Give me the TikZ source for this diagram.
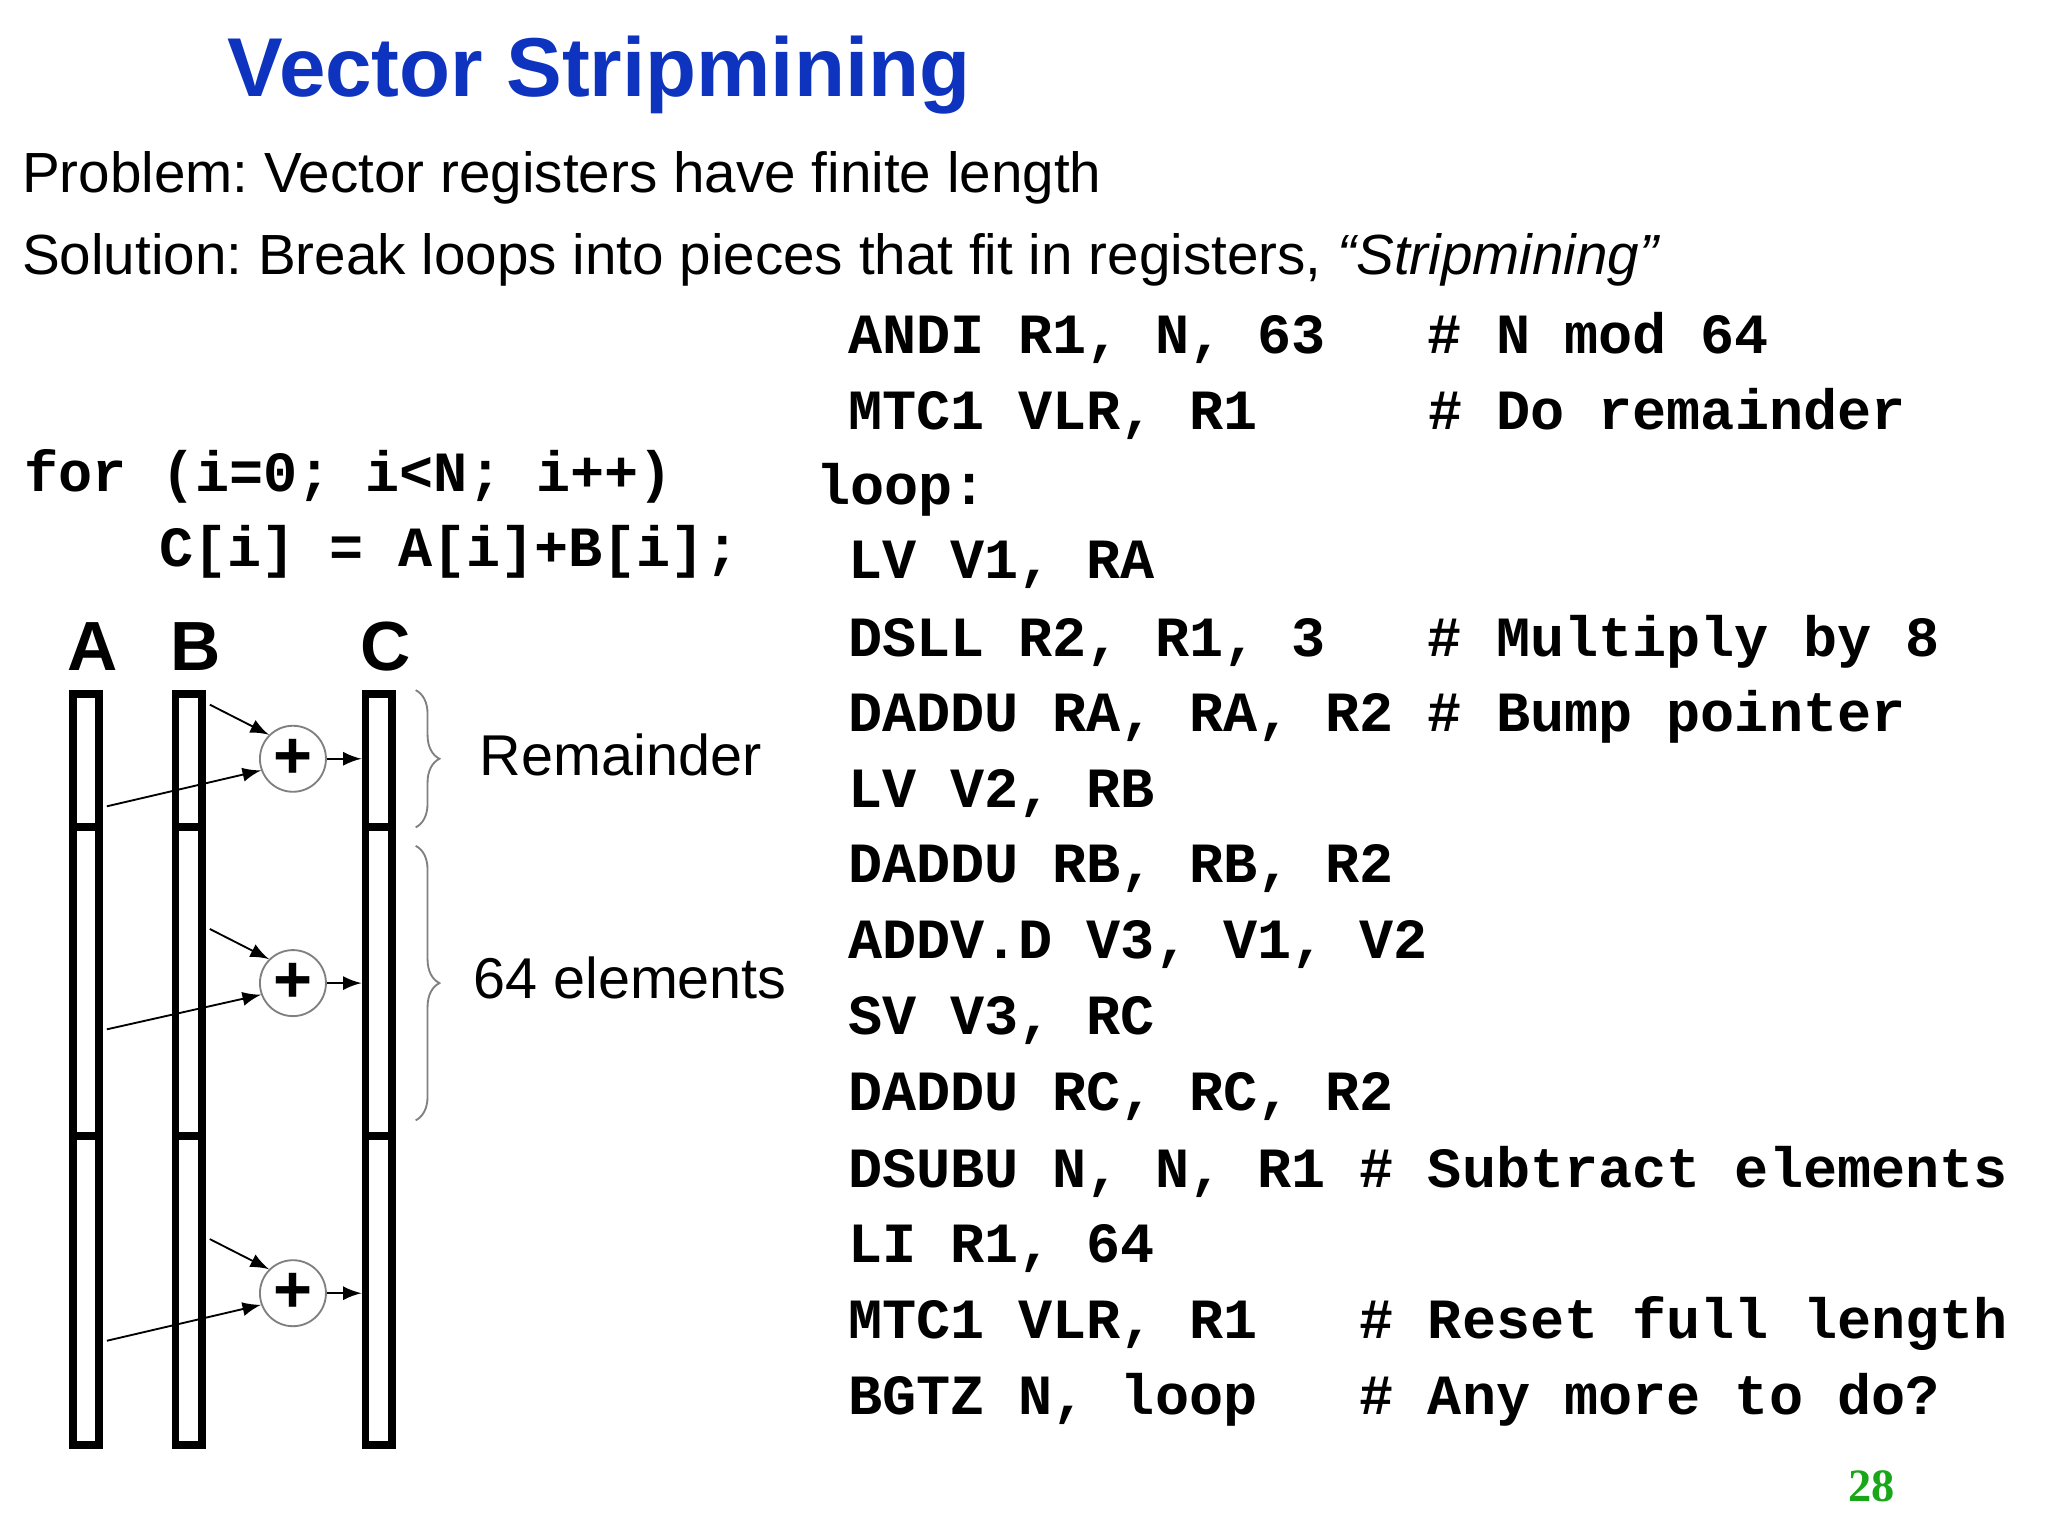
\documentclass[tikz,border=0pt]{standalone}
\usepackage{fontspec}
\setmainfont{Liberation Sans}
\setmonofont{Liberation Mono}
\newfontfamily\pagefont{Liberation Serif}
\usepackage{tikz}
\usetikzlibrary{arrows,decorations.pathreplacing}
\definecolor{titleblue}{rgb}{0.05, 0.2, 0.75}
\definecolor{pagegreen}{rgb}{0.1, 0.65, 0.1}
\newcommand{\codefont}{\fontsize{12.25pt}{14pt}\selectfont\ttfamily\bfseries}
\frenchspacing

\begin{document}
\begin{tikzpicture}[x=0.01cm,y=-0.01cm,
    seg/.style={draw,line width=1.7pt,inner sep=0,minimum width=0.2cm},
    adder/.style={circle,draw,gray,thin,inner sep=0,minimum size=0.5cm,text=black,font=\bfseries\Large},
    code/.style={anchor=west,inner sep=0,font=\codefont},
    body/.style={anchor=west,inner sep=0,font=\fontsize{12.2pt}{14pt}\selectfont},
    brc/.style={decorate,decoration={brace,amplitude=0.18cm},gray,thin}]
  \useasboundingbox (0,0) rectangle (1552,1164);
  \node[anchor=west,inner sep=0,text=titleblue,font=\fontsize{18pt}{22pt}\selectfont\bfseries] (title) at (172,57) {Vector Stripmining};
  \node[body] (prob) at (16,135) {Problem: Vector registers have finite length};
  \node[body] (sol) at (16,197) {Solution: Break loops into pieces that fit in registers, \textit{“Stripmining”}};
  % C source
  \node[code] (for) at (18,361) {for (i=0; i<N; i++)};
  \node[code] (body) at (120,418) {C[i] = A[i]+B[i];};
  % assembly
  \node[code] (l1) at (642,256) {ANDI R1, N, 63~~~\# N mod 64};
  \node[code] (l2) at (642,314) {MTC1 VLR, R1~~~~~\# Do remainder};
  \node[code] (l3) at (618,371) {loop:};
  \node[code] (l4) at (642,428) {LV V1, RA};
  \node[code] (l5) at (642,486) {DSLL R2, R1, 3~~~\# Multiply by 8};
  \node[code] (l6) at (642,543) {DADDU RA, RA, R2 \# Bump pointer};
  \node[code] (l7) at (642,601) {LV V2, RB};
  \node[code] (l8) at (642,658) {DADDU RB, RB, R2};
  \node[code] (l9) at (642,716) {ADDV.D V3, V1, V2};
  \node[code] (l10) at (642,773) {SV V3, RC};
  \node[code] (l11) at (642,831) {DADDU RC, RC, R2};
  \node[code] (l12) at (642,888) {DSUBU N, N, R1 \# Subtract elements};
  \node[code] (l13) at (642,946) {LI R1, 64};
  \node[code] (l14) at (642,1003) {MTC1 VLR, R1~~~\# Reset full length};
  \node[code] (l15) at (642,1061) {BGTZ N, loop~~~\# Any more to do?};
  % vectors
  \foreach \v/\x in {a/65,b/143,c/287} {
    \node[seg,minimum height=1.01cm] (\v1) at (\x,576.5) {};
    \node[seg,minimum height=2.34cm] (\v2) at (\x,744) {};
    \node[seg,minimum height=2.34cm] (\v3) at (\x,978) {};
  }
  \node[font=\fontsize{15pt}{17pt}\selectfont\bfseries] (la) at (70,490) {A};
  \node[font=\fontsize{15pt}{17pt}\selectfont\bfseries] (lb) at (148,490) {B};
  \node[font=\fontsize{15pt}{17pt}\selectfont\bfseries] (lc) at (292,490) {C};
  % adders
  \node[adder] (p1) at (222,575) {+};
  \node[adder] (p2) at (222,745) {+};
  \node[adder] (p3) at (222,980) {+};
  \foreach \i/\dy/\ay in {1/0.11/0.88, 2/0.80/1.56, 3/0.81/1.58} {
    \draw[-latex] ([yshift=-\dy cm,xshift=0.03cm]b\i.north east) -- (p\i.135);
    \draw[-latex] ([yshift=-\ay cm,xshift=0.03cm]a\i.north east) -- (p\i.200);
    \draw[-latex] (p\i) -- (p\i -| c\i.west);
  }
  % braces
  \draw[brc] (315,523) -- (315,627);
  \draw[brc] (315,641) -- (315,849);
  \node[body,font=\fontsize{12.4pt}{14pt}\selectfont] (rem) at (363,572) {Remainder};
  \node[body,font=\fontsize{12.4pt}{14pt}\selectfont] (sixty) at (358,741) {64 elements};
  \node[text=pagegreen,font=\fontsize{10pt}{12pt}\selectfont\bfseries\pagefont] (page) at (1418,1126) {28};
\end{tikzpicture}
\end{document}
